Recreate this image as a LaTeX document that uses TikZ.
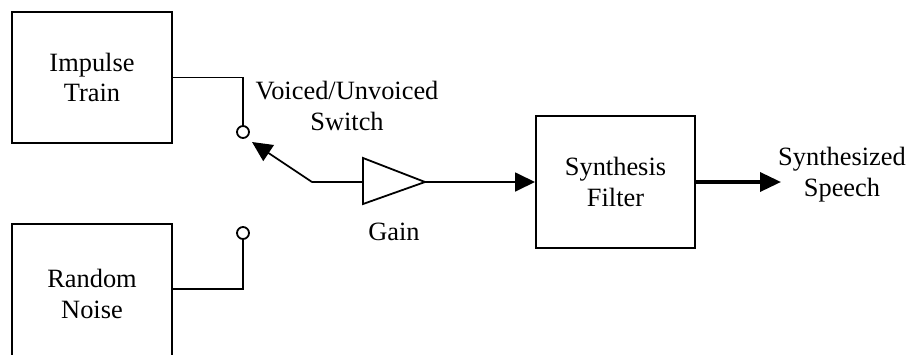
\documentclass[tikz,border=0pt]{standalone}
\usepackage{fontspec}
\setmainfont{Liberation Serif}
\usetikzlibrary{arrows.meta}
\begin{document}
\begin{tikzpicture}[x=0.5pt,y=-0.5pt,
  every node/.style={font=\fontsize{13.2}{15.4}\selectfont},
  block/.style={draw,line width=1pt,minimum width=80pt,minimum height=65.5pt,align=center,inner sep=0pt},
  port/.style={draw,circle,line width=0.9pt,minimum size=6pt,inner sep=0pt,fill=white},
  wire/.style={line width=0.9pt},
  sig/.style={line width=0.9pt,-{Triangle[length=10pt,width=9.5pt]}},
  bigsig/.style={line width=1.8pt,-{Triangle[length=10.5pt,width=9.5pt]}},
  lbl/.style={align=center,inner sep=0pt}]
\useasboundingbox (0,0) rectangle (910,354);
\clip (0,0) rectangle (910,354);

% source generators (the lower one runs past the bottom edge)
\node[block] (impulse) at (92,77.5) {Impulse\\Train};
\node[block,minimum height=70pt] (noise) at (92,294) {Random\\Noise};

% switch contacts
\node[port] (c1) at (243,132) {};
\node[port] (c2) at (243,233) {};

\draw[wire] (impulse.east) -| (c1.north);
\draw[wire] (c2.south) |- ([yshift=2.5pt]noise.east);

% switch arm
\coordinate (pivot) at (312,182);
\coordinate (armtip) at (252,142);
\draw[sig] (pivot) -- (armtip);

% gain amplifier
\coordinate (gl) at (363,182);
\coordinate (gt) at (425,182);
\draw[wire,line join=miter] (363,158) -- (gt) -- (363,204) -- cycle;
\draw[wire] (pivot) -- (gl);

% synthesis filter
\node[block,minimum width=79.5pt,minimum height=66pt] (filter) at (615.5,182) {Synthesis\\Filter};
\draw[sig] (gt) -- (filter.west);

\coordinate (out) at (781,182);
\draw[bigsig] (filter.east) -- (out);

% labels
\node[lbl] (swlabel) at (347,106) {Voiced/Unvoiced\\Switch};
\node[lbl] (gainlabel) at (394,232) {Gain};
\node[lbl] (outlabel) at (842,175) {Synthesized\\Speech};
\end{tikzpicture}
\end{document}
